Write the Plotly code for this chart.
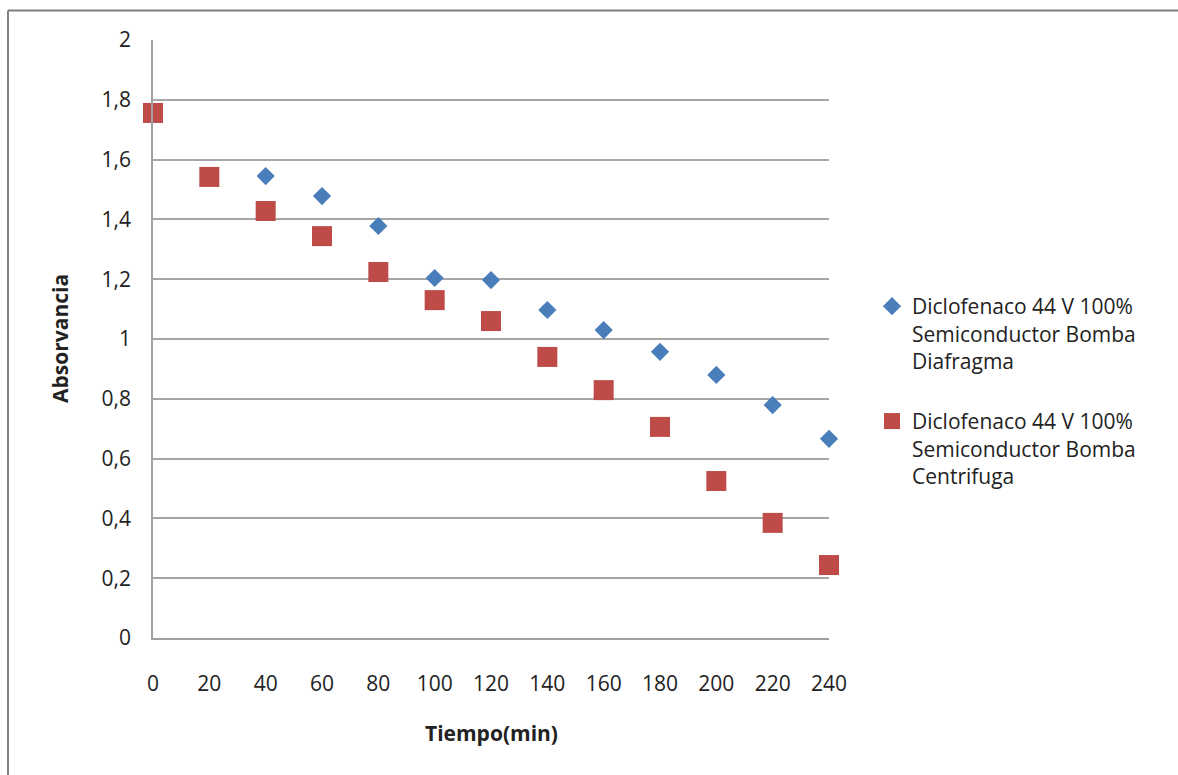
import plotly.graph_objects as go

tiempo_diafragma = [40, 60, 80, 100, 120, 140, 160, 180, 200, 220, 240]
abs_diafragma = [1.545, 1.478, 1.378, 1.204, 1.197, 1.097, 1.030, 0.957, 0.880, 0.779, 0.666]

tiempo_centrifuga = [0, 20, 40, 60, 80, 100, 120, 140, 160, 180, 200, 220, 240]
abs_centrifuga = [1.756, 1.542, 1.428, 1.344, 1.224, 1.130, 1.060, 0.940, 0.829, 0.706, 0.525, 0.385, 0.244]

x_ticks = [0, 20, 40, 60, 80, 100, 120, 140, 160, 180, 200, 220, 240]
y_ticks = [0, 0.2, 0.4, 0.6, 0.8, 1.0, 1.2, 1.4, 1.6, 1.8, 2.0]
y_ticktext = ["0", "0,2", "0,4", "0,6", "0,8", "1", "1,2", "1,4", "1,6", "1,8", "2"]

name_diafragma = "Diclofenaco 44 V 100%<br>Semiconductor Bomba<br>Diafragma"
name_centrifuga = "Diclofenaco 44 V 100%<br>Semiconductor Bomba<br>Centrifuga"

FONT = "Open Sans"
FS = 21
W, H = 1178, 775
L, R, T, B = 153, 1178 - 829, 40, 775 - 638

fig = go.Figure()
fig.add_trace(go.Scatter(
    x=tiempo_diafragma, y=abs_diafragma, mode="markers", name=name_diafragma,
    legendgroup="diafragma",
    marker=dict(symbol="diamond", size=14, color="#4A7EBB"), cliponaxis=False,
))
fig.add_trace(go.Scatter(
    x=tiempo_centrifuga, y=abs_centrifuga, mode="markers", name=name_centrifuga,
    legendgroup="centrifuga",
    marker=dict(symbol="square", size=20, color="#BE4B48"), cliponaxis=False,
))

pw = W - L - R
ph = H - T - B
def px_x(p):
    return (p - L) / pw
def px_y(p):
    return (H - B - p) / ph

fig.update_layout(
    width=W, height=H,
    margin=dict(l=L, r=R, t=T, b=B),
    paper_bgcolor="white", plot_bgcolor="white",
    font=dict(family=FONT, size=FS, color="#222222"),
    separators=", ",
    xaxis=dict(
        range=[0, 240], tickvals=x_ticks, showgrid=False, zeroline=False,
        showline=True, linecolor="#A0A0A0", linewidth=1.5,
        ticks="", ticklabelstandoff=26, tickfont=dict(size=FS),
    ),
    yaxis=dict(
        range=[0, 2], tickvals=y_ticks, ticktext=y_ticktext,
        showgrid=True, gridcolor="#A6A6A6", gridwidth=1.5, zeroline=False,
        showline=True, linecolor="#A0A0A0", linewidth=1.5,
        ticks="", ticklabelstandoff=16, tickfont=dict(size=FS),
    ),
    legend=dict(
        x=px_x(872), y=px_y(286), xanchor="left", yanchor="top",
        font=dict(size=FS), tracegroupgap=30, itemsizing="trace",
        valign="top", bgcolor="rgba(0,0,0,0)",
    ),
    showlegend=True,
    annotations=[
        dict(text="<b>Tiempo(min)</b>", x=px_x(491), y=px_y(733), xref="paper", yref="paper",
             xanchor="center", yanchor="middle",
             showarrow=False, font=dict(size=FS, family=FONT)),
        dict(text="<b>Absorvancia</b>", x=px_x(60), y=px_y(339), xref="paper", yref="paper",
             xanchor="center", yanchor="middle",
             showarrow=False, textangle=-90, font=dict(size=FS, family=FONT)),
    ],
    shapes=[
        dict(type="line", xref="paper", yref="paper", x0=px_x(8), x1=px_x(1178), y0=px_y(10.5), y1=px_y(10.5),
             line=dict(color="#7F7F7F", width=2)),
        dict(type="line", xref="paper", yref="paper", x0=px_x(8), x1=px_x(8), y0=px_y(10.5), y1=px_y(775),
             line=dict(color="#7F7F7F", width=2)),
    ],
)

fig.write_html("out.html")
